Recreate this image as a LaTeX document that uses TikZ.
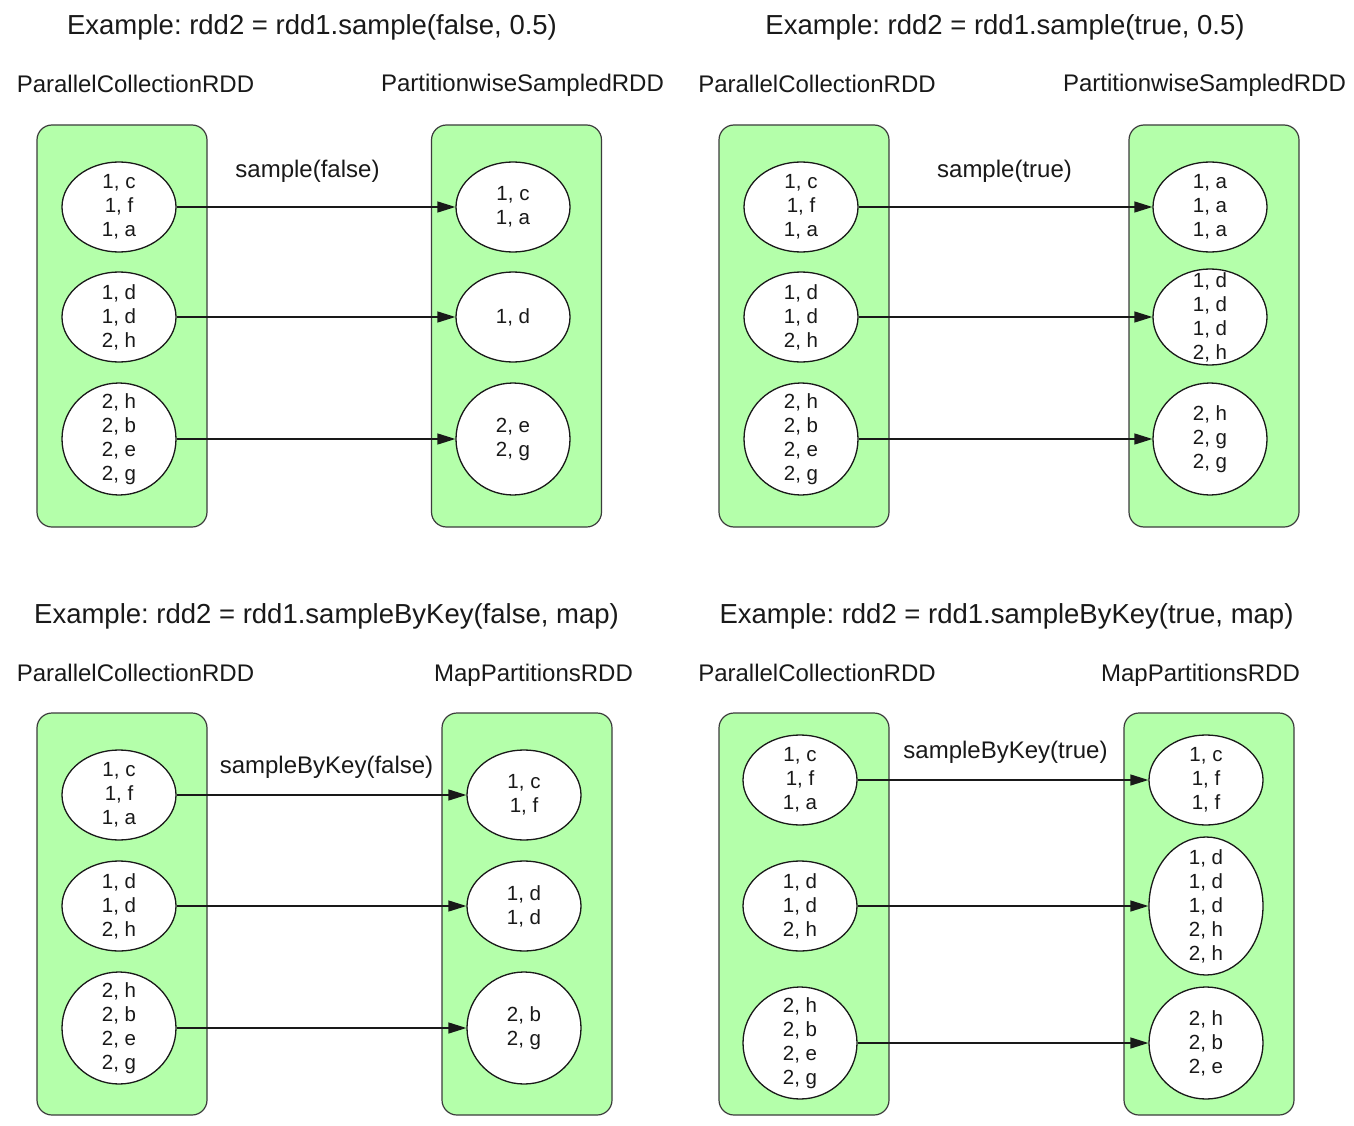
\documentclass[tikz,border=0pt]{standalone}
\usepackage{fontspec}
\setmainfont{Liberation Sans}
\usetikzlibrary{shapes.geometric,arrows.meta}
\definecolor{boxgreen}{RGB}{180,255,170}
\definecolor{ink}{RGB}{25,25,25}
\frenchspacing
\begin{document}
\begin{tikzpicture}[x=1pt,y=-1pt,
  rddbox/.style={draw=ink!85, line width=1.2pt, fill=boxgreen, rounded corners=15pt, minimum width=170pt, minimum height=402pt, inner sep=0pt},
  part/.style={ellipse, draw=ink, line width=1.3pt, fill=white, minimum width=114pt, minimum height=#1, inner xsep=0pt, inner ysep=-40pt, align=center, text=ink, font=\fontsize{20.5}{24}\selectfont},
  part/.default=90pt,
  titletext/.style={anchor=base, text=ink, font=\fontsize{27.5}{30}\selectfont, inner sep=0pt},
  rddlabel/.style={anchor=base, text=ink, font=\fontsize{24}{28}\selectfont, inner sep=0pt},
  oplabel/.style={anchor=base, text=ink, font=\fontsize{24}{28}\selectfont, inner sep=0pt},
  arr/.style={draw=ink, line width=1.3pt, -{Triangle[length=18pt,width=11pt]}}
]
\useasboundingbox[fill=white] (0,0) rectangle (1354,1126);

% ---------- Panel 1 ----------
\node[titletext] (t1) at (312,35) {Example: rdd2 = rdd1.sample(false, 0.5)};
\node[rddlabel] (l1a) at (135.5,93) {ParallelCollectionRDD};
\node[rddlabel] (l1b) at (522.5,92) {PartitionwiseSampledRDD};
\node[rddbox] (B1a) at (122,326) {};
\node[rddbox] (B1b) at (516.5,326) {};
\node[part] (a11) at (119,207) {1, c\\1, f\\1, a};
\node[part] (a12) at (119,317) {1, d\\1, d\\2, h};
\node[part=112pt] (a13) at (119,439) {2, h\\2, b\\2, e\\2, g};
\node[part] (b11) at (513,207) {1, c\\1, a};
\node[part] (b12) at (513,317) {1, d};
\node[part=112pt] (b13) at (513,439) {2, e\\2, g};
\draw[arr] (a11.east) -- (b11.west);
\draw[arr] (a12.east) -- (b12.west);
\draw[arr] (a13.east) -- (b13.west);
\node[oplabel] (o1) at (307.5,178) {sample(false)};

% ---------- Panel 2 ----------
\node[titletext] (t2) at (1005,35) {Example: rdd2 = rdd1.sample(true, 0.5)};
\node[rddlabel] (l2a) at (817,93) {ParallelCollectionRDD};
\node[rddlabel] (l2b) at (1204.5,92) {PartitionwiseSampledRDD};
\node[rddbox] (B2a) at (804,326) {};
\node[rddbox] (B2b) at (1214,326) {};
\node[part] (a21) at (801,207) {1, c\\1, f\\1, a};
\node[part] (a22) at (801,317) {1, d\\1, d\\2, h};
\node[part=112pt] (a23) at (801,439) {2, h\\2, b\\2, e\\2, g};
\node[part] (b21) at (1210,207) {1, a\\1, a\\1, a};
\node[part=96pt] (b22) at (1210,317) {1, d\\1, d\\1, d\\2, h};
\node[part=112pt] (b23) at (1210,439) {2, h\\2, g\\2, g};
\draw[arr] (a21.east) -- (b21.west);
\draw[arr] (a22.east) -- (b22.west);
\draw[arr] (a23.east) -- (b23.west);
\node[oplabel] (o2) at (1004.5,178) {sample(true)};

% ---------- Panel 3 ----------
\node[titletext] (t3) at (326.5,623) {Example: rdd2 = rdd1.sampleByKey(false, map)};
\node[rddlabel] (l3a) at (135.5,681) {ParallelCollectionRDD};
\node[rddlabel] (l3b) at (533.5,681) {MapPartitionsRDD};
\node[rddbox] (B3a) at (122,914) {};
\node[rddbox] (B3b) at (527,914) {};
\node[part] (a31) at (119,795) {1, c\\1, f\\1, a};
\node[part] (a32) at (119,906) {1, d\\1, d\\2, h};
\node[part=112pt] (a33) at (119,1028) {2, h\\2, b\\2, e\\2, g};
\node[part] (b31) at (524,795) {1, c\\1, f};
\node[part] (b32) at (524,906) {1, d\\1, d};
\node[part=112pt] (b33) at (524,1028) {2, b\\2, g};
\draw[arr] (a31.east) -- (b31.west);
\draw[arr] (a32.east) -- (b32.west);
\draw[arr] (a33.east) -- (b33.west);
\node[oplabel] (o3) at (326.5,773) {sampleByKey(false)};

% ---------- Panel 4 ----------
\node[titletext] (t4) at (1006.5,623) {Example: rdd2 = rdd1.sampleByKey(true, map)};
\node[rddlabel] (l4a) at (817,681) {ParallelCollectionRDD};
\node[rddlabel] (l4b) at (1200.5,681) {MapPartitionsRDD};
\node[rddbox] (B4a) at (804,914) {};
\node[rddbox] (B4b) at (1209,914) {};
\node[part] (a41) at (800,780) {1, c\\1, f\\1, a};
\node[part] (a42) at (800,906) {1, d\\1, d\\2, h};
\node[part=112pt] (a43) at (800,1043) {2, h\\2, b\\2, e\\2, g};
\node[part] (b41) at (1206,780) {1, c\\1, f\\1, f};
\node[part=138pt] (b42) at (1206,906) {1, d\\1, d\\1, d\\2, h\\2, h};
\node[part=112pt] (b43) at (1206,1043) {2, h\\2, b\\2, e};
\draw[arr] (a41.east) -- (b41.west);
\draw[arr] (a42.east) -- (b42.west);
\draw[arr] (a43.east) -- (b43.west);
\node[oplabel] (o4) at (1005.5,758) {sampleByKey(true)};
\end{tikzpicture}
\end{document}
